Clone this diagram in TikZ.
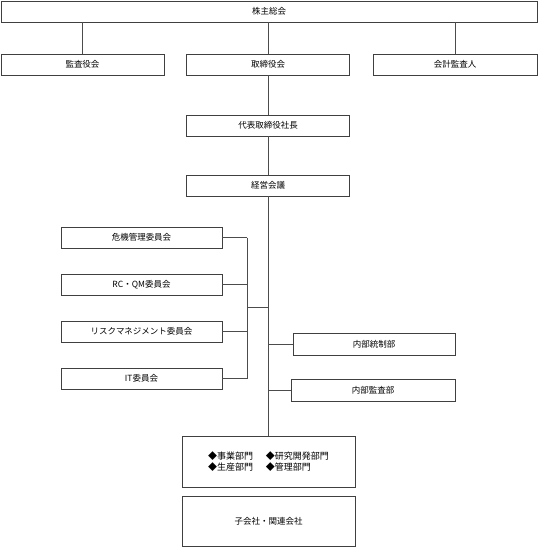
\documentclass[tikz,border=0pt]{standalone}
\usepackage{fontspec}
\setmainfont{Noto Sans CJK JP}
\begin{document}
\begin{tikzpicture}[x=1pt,y=-1pt,
  box/.style={draw=black!75, line width=0.8pt, fill=white, inner sep=0pt, minimum height=21pt, font=\fontsize{8.5}{10}\selectfont},
  conn/.style={draw=black!70, line width=0.8pt}]
\path[use as bounding box] (0,0) rectangle (558,547);
% nodes
\node[box, minimum width=536pt] (top) at (269,11.5) {株主総会};
\node[box, minimum width=163pt] (kansa) at (82.5,64.5) {監査役会};
\node[box, minimum width=163pt] (tori) at (268,64.5) {取締役会};
\node[box, minimum width=164pt] (kaikei) at (455,64.5) {会計監査人};
\node[box, minimum width=163pt] (daihyo) at (268,125.5) {代表取締役社長};
\node[box, minimum width=163pt] (keiei) at (268,185.5) {経営会議};
\node[box, minimum width=161pt] (i1) at (141.5,237.5) {危機管理委員会};
\node[box, minimum width=161pt] (i2) at (141.5,284.5) {RC・QM委員会};
\node[box, minimum width=161pt] (i3) at (141.5,331.5) {リスクマネジメント委員会};
\node[box, minimum width=161pt] (i4) at (141.5,378.5) {IT委員会};
\node[box, minimum width=162pt, minimum height=22pt] (n1) at (374,344) {内部統制部};
\node[box, minimum width=164pt, minimum height=22pt] (n2) at (373,390) {内部監査部};
\node[box, minimum width=173pt, minimum height=51pt, align=left,
      font=\fontsize{9}{10.5}\selectfont] (jigyo) at (268.5,461.5)
  {◆事業部門\hspace{1.4em}◆研究開発部門\\◆生産部門\hspace{1.4em}◆管理部門};
\node[box, minimum width=173pt, minimum height=50pt] (ko) at (268.5,521.5) {子会社・関連会社};
% coordinates
\coordinate (bus) at (247,0);
\coordinate (busmid) at (247,307);
% connectors
\draw[conn] (top.south -| kansa.north) -- (kansa.north);
\draw[conn] (top.south -| tori.north) -- (tori.north);
\draw[conn] (top.south -| kaikei.north) -- (kaikei.north);
\draw[conn] (tori.south) -- (daihyo.north);
\draw[conn] (daihyo.south) -- (keiei.north);
\draw[conn] (keiei.south) -- (jigyo.north -| keiei.south);
\draw[conn] (i1.east) -- (i1.east -| bus);
\draw[conn] (i2.east) -- (i2.east -| bus);
\draw[conn] (i3.east) -- (i3.east -| bus);
\draw[conn] (i4.east) -- (i4.east -| bus);
\draw[conn] (i1.east -| bus) -- (i4.east -| bus);
\draw[conn] (busmid) -- (busmid -| keiei.south);
\draw[conn] (n1.west -| keiei.south) -- (n1.west);
\draw[conn] (n2.west -| keiei.south) -- (n2.west);
\end{tikzpicture}
\end{document}
